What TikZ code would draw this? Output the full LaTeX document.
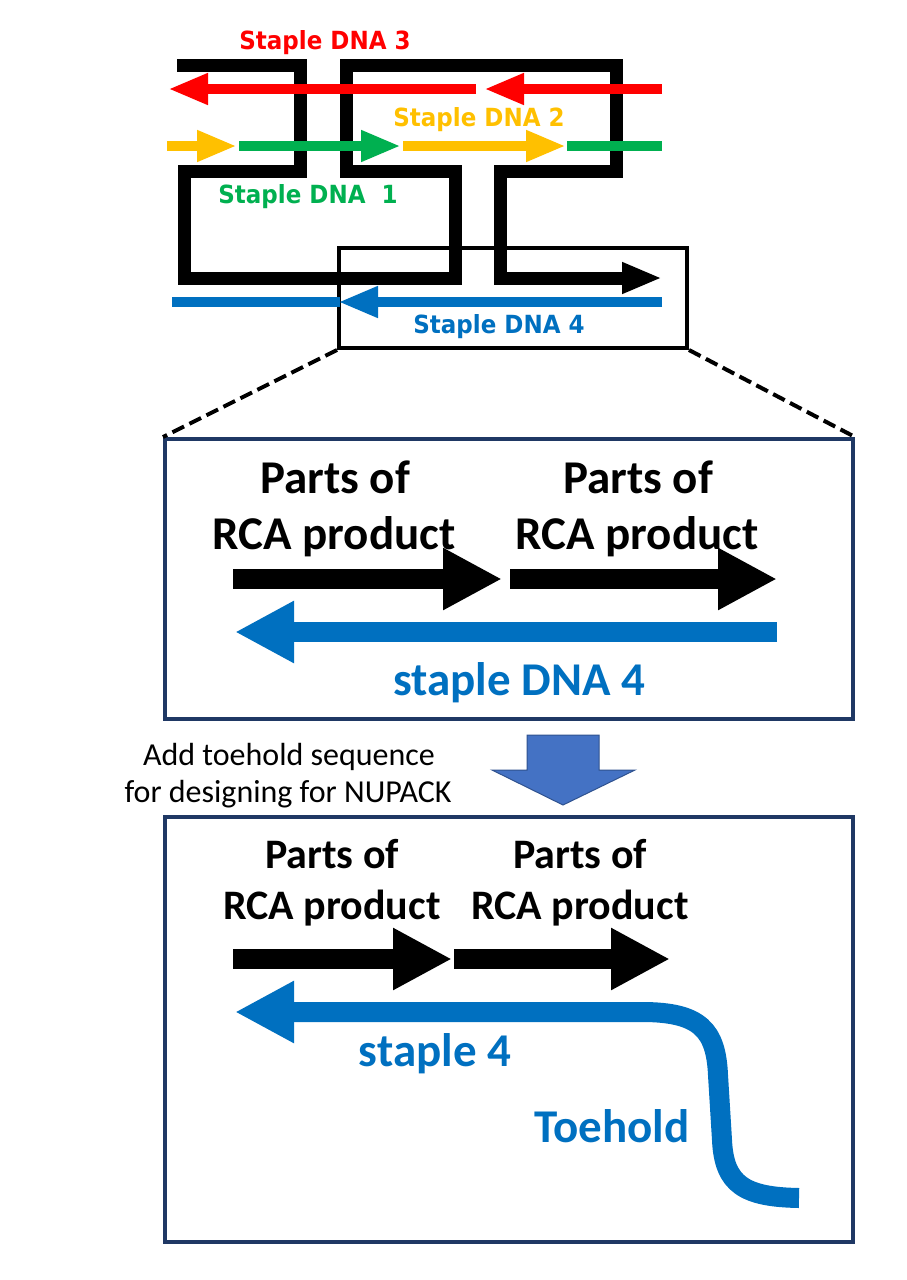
\documentclass[tikz,border=0pt]{standalone}
\usepackage{fontspec}
\setmainfont{Carlito}
\newfontfamily\labfont[FakeStretch=0.92]{DejaVu Sans}
\usetikzlibrary{arrows.meta}
\definecolor{cred}{HTML}{FF0000}
\definecolor{corange}{HTML}{FFC000}
\definecolor{cgreen}{HTML}{00B050}
\definecolor{cblue}{HTML}{0070C0}
\definecolor{cnavy}{HTML}{1F3864}
\definecolor{cblock}{HTML}{4472C4}
\definecolor{cblockb}{HTML}{2F528F}
\tikzset{
  scaf/.style={line width=13pt, line join=miter, draw=black},
  strand/.style={line width=10.5pt},
  tipS/.style={-{Triangle[length=40pt,width=29pt]}},
  tipB/.style={-{Triangle[length=59pt,width=58pt]}},
  fat/.style={line width=19.5pt},
  lab/.style={font=\labfont\bfseries\fontsize{25}{30}\selectfont, inner sep=0pt, anchor=base},
  bigtxt/.style={font=\bfseries\fontsize{47}{57}\selectfont, inner sep=0pt, anchor=base},
  midtxt/.style={font=\bfseries\fontsize{42}{51}\selectfont, inner sep=0pt, anchor=base},
  note/.style={font=\fontsize{32}{38}\selectfont, inner sep=0pt, anchor=base},
  panel/.style={draw=cnavy, line width=4pt, anchor=north west, inner sep=0pt},
}
\begin{document}
\begin{tikzpicture}[x=1pt,y=-1pt]
\useasboundingbox (0,0) rectangle (907,1280);
\fill[white] (0,0) rectangle (907,1280);

% zoom rectangle
\node (zr) [draw=black, line width=4pt, anchor=north west, inner sep=0pt,
  minimum width=348pt, minimum height=100pt] at (337,246) {};

% scaffold
\draw[scaf, tipS] (177,65) -- (300,65) -- (300,171) -- (184,171) -- (184,278)
  -- (455,278) -- (455,171) -- (346,171) -- (346,65) -- (616,65) -- (616,171)
  -- (500,171) -- (500,278) -- (662,278);

% staple 3 (red)
\draw[strand, cred, tipS] (476,89) -- (168,89);
\draw[strand, cred, tipS] (662,89) -- (484,89);
% staple 1/2
\draw[strand, corange, tipS] (167,146) -- (237,146);
\draw[strand, cgreen, tipS] (239,146) -- (401,146);
\draw[strand, corange, tipS] (403,146) -- (566,146);
\draw[strand, cgreen] (567,146) -- (662,146);
% staple 4 (blue)
\draw[strand, cblue] (172,302) -- (340,302);
\draw[strand, cblue, tipS] (662,302) -- (338,302);

\node (l3) [lab, text=cred] at (325,49) {Staple DNA 3};
\node (l2) [lab, text=corange] at (479,126) {Staple DNA 2};
\node (l1) [lab, text=cgreen] at (308,203) {Staple DNA\ \ 1};
\node (l4) [lab, text=cblue] at (499,333) {Staple DNA 4};

% panel 1
\node (box1) [panel, minimum width=688pt, minimum height=280pt] at (163,437) {};
\draw[line width=4pt, dash pattern=on 13pt off 6pt] (zr.south west) -- (box1.north west);
\draw[line width=4pt, dash pattern=on 13pt off 6pt] (zr.south east) -- (box1.north east);

\node (p1a) [bigtxt] at (335,493) {Parts of};
\node (p1b) [bigtxt] at (334,549) {RCA product};
\node (p2a) [bigtxt] at (638,493) {Parts of};
\node (p2b) [bigtxt] at (637,549) {RCA product};
\draw[fat, black, tipB] (233,579) -- (502,579);
\draw[fat, black, tipB] (510,579) -- (777,579);
\draw[fat, cblue, tipB] (777,632) -- (235,632);
\node (s4a) [bigtxt, text=cblue] at (519,695) {staple DNA 4};

% transition
\node (n1) [note] at (289,765) {Add toehold sequence};
\node (n2) [note] at (288,802) {for designing for NUPACK};
\draw[fill=cblock, draw=cblockb, line width=1pt] (527,735) -- (599,735) -- (599,770)
  -- (635,770) -- (563,805) -- (492,770) -- (527,770) -- cycle;

% panel 2
\node (box2) [panel, minimum width=688pt, minimum height=425pt] at (163,815) {};
\node (q1a) [midtxt] at (332,868) {Parts of};
\node (q1b) [midtxt] at (332,919) {RCA product};
\node (q2a) [midtxt] at (580,868) {Parts of};
\node (q2b) [midtxt] at (580,919) {RCA product};
\draw[fat, black, tipB] (233,959) -- (452,959);
\draw[fat, black, tipB] (454,959) -- (670,959);
\draw[line width=20pt, cblue, tipB] (799,1198) .. controls (745,1197) and (724,1185) .. (722,1140)
  -- (718,1075) .. controls (716,1030) and (700,1012) .. (642,1012) -- (235,1012);
\node (s4b) [bigtxt, text=cblue] at (435,1066) {staple 4};
\node (toe) [bigtxt, text=cblue] at (612,1142) {Toehold};
\end{tikzpicture}
\end{document}
